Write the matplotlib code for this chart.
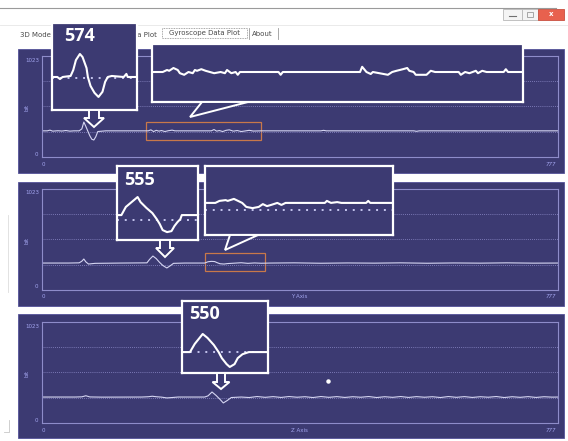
import matplotlib.pyplot as plt
from matplotlib.patches import Rectangle, Polygon

W, H = 568, 441

# gyroscope samples: index 0..777, reading in bits 0..1023
x_axis_s = [0, 8, 12, 16, 24, 30, 36, 42, 48, 56, 60, 63, 66, 69, 72, 75, 78, 81, 84, 96,
            130, 160, 164, 168, 172, 176, 180, 185, 190, 196, 200, 230, 255, 259, 263, 267, 272, 277, 282, 288,
            294, 300, 306, 312, 318, 330, 380, 420, 424, 428, 470, 520, 560, 564, 568, 610, 660, 700, 740, 777]
x_axis_bits = [265, 265, 272, 262, 266, 263, 268, 262, 265, 265, 285, 354, 310, 262, 215, 180, 172, 205, 258, 265,
               265, 265, 275, 258, 270, 262, 268, 258, 266, 272, 265, 265, 265, 278, 262, 268, 258, 270, 275, 262,
               268, 258, 264, 270, 263, 265, 265, 265, 270, 265, 265, 265, 265, 260, 265, 265, 265, 265, 265, 265]

y_axis_s = [0, 40, 56, 60, 63, 66, 70, 80, 120, 158, 162, 167, 172, 177, 182, 188, 193, 198, 215, 245,
            250, 255, 260, 264, 268, 274, 280, 290, 300, 310, 320, 330, 345, 380, 420, 460, 500, 540, 580, 620,
            660, 700, 740, 777]
y_axis_bits = [273, 273, 275, 292, 314, 285, 263, 270, 273, 275, 310, 344, 318, 280, 248, 223, 245, 270, 273, 273,
               286, 290, 288, 276, 266, 263, 268, 272, 276, 270, 274, 271, 273, 275, 271, 274, 272, 275, 271, 274,
               272, 275, 272, 273]

z_axis_s = [0, 50, 60, 66, 72, 90, 150, 160, 166, 172, 180, 188, 196, 205, 245, 250, 256, 262, 268, 273,
            279, 285, 300, 312, 324, 336, 348, 360, 372, 384, 396, 408, 420, 432, 444, 456, 468, 480, 492, 504,
            516, 528, 540, 552, 564, 576, 588, 600, 612, 624, 636, 648, 660, 672, 684, 696, 708, 720, 732, 744,
            756, 768, 777]
z_axis_bits = [263, 263, 265, 276, 264, 262, 263, 266, 271, 266, 262, 254, 258, 263, 263, 275, 314, 280, 240, 203,
               228, 258, 263, 258, 268, 260, 267, 259, 268, 261, 266, 258, 268, 260, 267, 259, 266, 261, 268, 258,
               266, 260, 268, 259, 267, 261, 266, 258, 268, 260, 267, 259, 266, 261, 268, 258, 266, 260, 267, 259,
               266, 262, 263]
cursor_s = [431]
cursor_bits = [425]

# magnified views
peak_x_s = [40, 44, 46, 48, 54, 56, 58, 61, 63, 66, 67, 69, 72, 75, 78, 80, 82, 85, 94, 96, 97, 104]
peak_x_bits = [265, 265, 257, 265, 269, 292, 331, 355, 343, 300, 265, 230, 203, 187, 207, 246, 265, 269, 265, 277, 265, 265]
peak_y_s = [153, 156, 159, 167, 169, 173, 177, 180, 182, 184, 187, 190, 192, 194, 196, 197, 208]
peak_y_bits = [273, 273, 305, 344, 324, 301, 281, 257, 238, 214, 206, 210, 230, 245, 257, 273, 273]
peak_z_s = [243, 248, 251, 256, 259, 263, 266, 268, 271, 273, 276, 278, 281, 285, 297]
peak_z_bits = [263, 263, 286, 314, 303, 283, 263, 246, 229, 221, 229, 246, 257, 263, 263]

noise_x_s = [157, 162, 164, 165, 167, 169, 170, 172, 174, 176, 177, 178, 180, 182, 184, 186, 189, 191, 192, 194,
             196, 197, 198, 216, 217, 218, 254, 255, 257, 259, 260, 263, 267, 269, 271, 274, 276, 277, 279, 280,
             285, 287, 289, 300, 301, 303, 305, 308, 309, 311, 313, 321, 322, 323, 330]
noise_x_bits = [265, 265, 270, 268, 275, 270, 262, 258, 265, 262, 270, 268, 272, 268, 265, 262, 265, 262, 270, 262,
                265, 258, 265, 265, 258, 265, 265, 278, 265, 260, 265, 262, 258, 265, 268, 272, 275, 268, 265, 258,
                258, 268, 265, 265, 258, 265, 262, 268, 262, 268, 265, 265, 272, 265, 265]
noise_y_s = [245, 250, 252, 255, 256, 259, 261, 263, 265, 268, 271, 273, 275, 277, 280, 282, 284, 303, 304, 306,
             309, 311, 323, 324, 325, 336]
noise_y_bits = [273, 273, 278, 280, 278, 283, 278, 273, 263, 260, 263, 270, 265, 268, 273, 268, 273, 273, 278, 273,
                275, 273, 273, 278, 273, 273]

PANEL = '#3c3a72'
FRAME = '#8e8cca'
TRACE = '#d6d6f2'
LABEL = '#a2a4ee'
ORANGE = '#c8784a'
small = dict(fontsize=4, color=LABEL, family=['Liberation Sans Narrow', 'DejaVu Sans'])
tab = dict(fontsize=5, color='#4a4a4a', va='center')

fig = plt.figure(figsize=(W / 100, H / 100), dpi=100)
fig.patch.set_facecolor('white')


def px_axes(x0, y0, x1, y1, z):
    ax = fig.add_axes([x0 / W, 1 - y1 / H, (x1 - x0) / W, (y1 - y0) / H])
    ax.set_zorder(z)
    return ax


bg = px_axes(0, 0, W, H, 0)
bg.set_xlim(0, W)
bg.set_ylim(H, 0)
bg.axis('off')

# window chrome and tabs
bg.plot([0, 556], [8, 8], color='#9a9a9a', lw=0.8)
bg.plot([0, W], [25, 25], color='#e6e6e6', lw=0.6)
bg.add_patch(Rectangle((503, 9), 19, 11, fc='#f4f4f4', ec='#b8b8b8', lw=0.6))
bg.add_patch(Rectangle((522, 9), 16, 11, fc='#f4f4f4', ec='#b8b8b8', lw=0.6))
bg.add_patch(Rectangle((538, 9), 26, 11, fc='#e8614e', ec='#c85040', lw=0.6))
bg.plot([509, 516], [16, 16], color='#707070', lw=0.8)
bg.add_patch(Rectangle((527, 12), 6, 5, fill=False, ec='#9a9a9a', lw=0.6))
bg.text(551, 14.5, 'x', ha='center', va='center', fontsize=5, color='white', fontweight='bold')

bg.text(20, 35, '3D Model', **tab)
bg.text(157, 35, 'Data Plot', ha='right', **tab)
bg.add_patch(Rectangle((162, 28), 85, 10, fill=False, ec='#8a8a8a', ls=(0, (1, 1)), lw=0.6))
bg.text(204.5, 33.5, 'Gyroscope Data Plot', ha='center', **tab)
bg.plot([249, 249], [28, 39], color='#9a9a9a', lw=0.6)
bg.text(252, 34, 'About', **tab)
bg.plot([278, 278], [28, 39], color='#9a9a9a', lw=0.6)
bg.plot([8, 8], [215, 292], color='#dddddd', lw=0.6)
bg.plot([4, 9, 9], [432, 432, 420], color='#c8c8c8', lw=0.6)

# three plot panels
panels = [
    (49, x_axis_s, x_axis_bits, None),
    (182, y_axis_s, y_axis_bits, 'Y Axis'),
    (314, z_axis_s, z_axis_bits, 'Z Axis'),
]
plot_axes = []
for top, s, bits, title in panels:
    bg.add_patch(Rectangle((18, top), 546, 124, fc=PANEL, ec='#55539a', lw=0.6))
    ftop = top + 7 if top != 314 else top + 8
    fbot = ftop + 101
    ax = px_axes(42, ftop, 558, fbot, 1)
    ax.set_facecolor('none')
    ax.set_xlim(0, 777)
    ax.set_ylim(0, 1023)
    ax.set_xticks([])
    ax.set_yticks([])
    for sp in ax.spines.values():
        sp.set_color(FRAME)
        sp.set_linewidth(0.8)
    for g in (256, 512, 768):
        ax.axhline(g, color=FRAME, lw=0.6, ls=(0, (1, 1.5)))
    ax.plot(s, bits, color=TRACE, lw=0.8)
    plot_axes.append(ax)

    bg.text(39, ftop + 4, '1023', ha='right', va='center', **small)
    bg.text(27, ftop + 51, 'bit', rotation=90, ha='center', va='center', **small)
    bg.text(38, fbot - 3, '0', ha='right', va='center', **small)
    bg.text(43, fbot + 7, '0', ha='center', va='center', **small)
    bg.text(556, fbot + 7, '777', ha='right', va='center', style='italic', **small)
    if title:
        bg.text(299, fbot + 7, title, ha='center', va='center', **small)

# zoom windows and cursor dot
plot_axes[0].add_patch(Rectangle((157, 172), 173, 182, fill=False, ec=ORANGE, lw=0.9))
plot_axes[1].add_patch(Rectangle((245, 192), 91, 183, fill=False, ec=ORANGE, lw=0.9))
plot_axes[2].plot(cursor_s, cursor_bits, 'o', ms=2.2, color='white')


def callout(x0, y0, x1, y1, s, bits, xlim, ylim, dots=None):
    ax = px_axes(x0, y0, x1, y1, 3)
    ax.set_facecolor(PANEL)
    ax.set_xlim(*xlim)
    ax.set_ylim(*ylim)
    ax.set_xticks([])
    ax.set_yticks([])
    for sp in ax.spines.values():
        sp.set_color('white')
        sp.set_linewidth(1.6)
    if dots is not None:
        ax.axhline(dots, color='#c4c4ee', lw=1.4, ls=(0, (1, 3)))
    ax.plot(s, bits, color='white', lw=1.5)
    return ax


callout(52, 23, 137, 110, peak_x_s, peak_x_bits, (40, 104), (136, 476), dots=263)
callout(117, 166, 198, 240, peak_y_s, peak_y_bits, (153, 208), (175, 466), dots=253)
callout(182, 301, 268, 373, peak_z_s, peak_z_bits, (243, 297), (204, 407), dots=263)
callout(152, 44, 523, 102, noise_x_s, noise_x_bits, (157, 330), (190, 335))
callout(205, 166, 393, 235, noise_y_s, noise_y_bits, (245, 336), (193, 365), dots=255)

ov = px_axes(0, 0, W, H, 4)
ov.set_xlim(0, W)
ov.set_ylim(H, 0)
ov.axis('off')

# down arrows under the peak boxes
for cx, yb, sw, hw, sh, hh in [(94, 110, 5, 10, 8, 9), (165, 240, 5, 9, 8, 9), (221, 373, 4, 8.5, 9, 7)]:
    ov.add_patch(Polygon([(cx - sw, yb), (cx - sw, yb + sh), (cx - hw, yb + sh), (cx, yb + sh + hh),
                          (cx + hw, yb + sh), (cx + sw, yb + sh), (cx + sw, yb)],
                         closed=True, fc=PANEL, ec='white', lw=1.4, joinstyle='miter'))

# speech-bubble tails for the noise boxes
ov.add_patch(Polygon([(202, 102), (190, 117), (248, 102)], closed=True, fc=PANEL, ec='white', lw=1.4))
ov.add_patch(Polygon([(230, 235), (225, 250), (258, 235)], closed=True, fc=PANEL, ec='white', lw=1.4))

big = dict(fontsize=13, fontweight='bold', color='white', ha='left', va='center',
           family=['Open Sans', 'DejaVu Sans'])
ov.text(64, 36, '574', **big)
ov.text(124, 180, '555', **big)
ov.text(189, 314, '550', **big)

plt.savefig('out.png', dpi=100)
